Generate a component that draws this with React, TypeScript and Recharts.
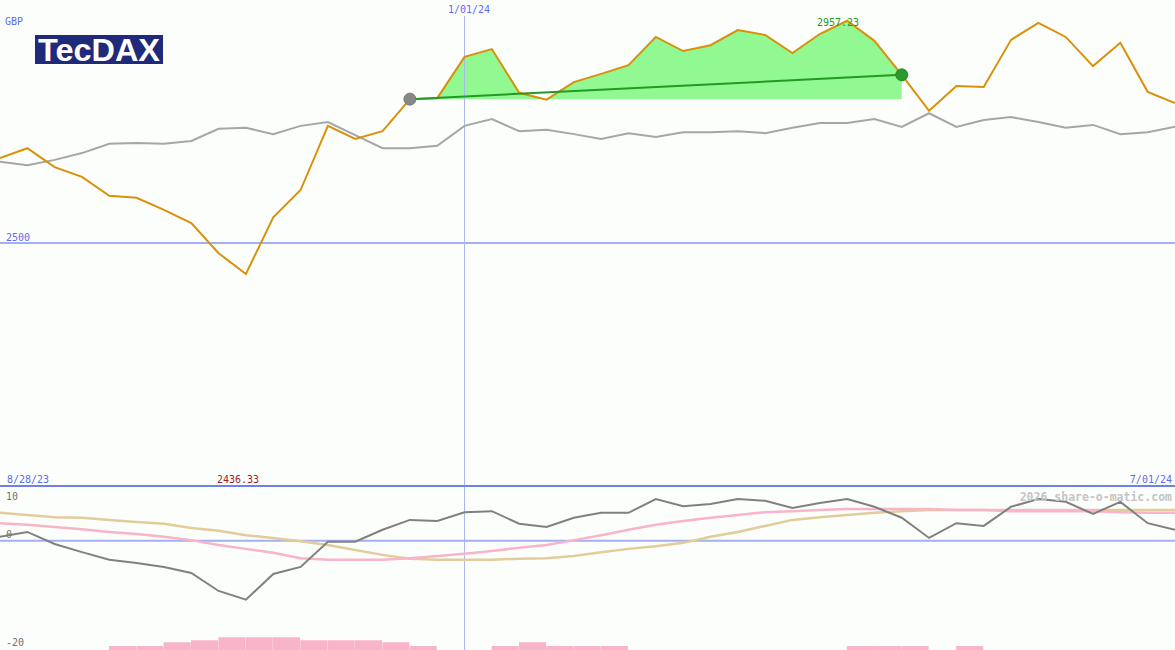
import React from 'react';
import { ComposedChart, Line, Area, Bar, XAxis, YAxis, ReferenceLine } from 'recharts';

// weekly closes, 8/28/23 .. 7/01/24 (44 points)
const tecdaxGbp = [
  2675, 2695, 2656, 2636, 2597, 2593, 2568, 2541, 2479, 2436.33,
  2553, 2609, 2741, 2714, 2730, 2796, 2798, 2883, 2899, 2809,
  2795, 2831, 2848, 2866, 2924, 2895, 2907, 2938, 2928, 2891,
  2930, 2957.23, 2916, 2846, 2772, 2823, 2821, 2918, 2953, 2924,
  2864, 2912, 2811, 2788,
];
const compareLine = [
  2667, 2660, 2671, 2685, 2704, 2706, 2704, 2710, 2735, 2737,
  2724, 2741, 2749, 2722, 2695, 2695, 2700, 2741, 2755, 2730,
  2733, 2724, 2714, 2726, 2718, 2728, 2728, 2730, 2726, 2737,
  2747, 2747, 2755, 2739, 2767, 2739, 2753, 2759, 2749, 2737,
  2743, 2724, 2728, 2739,
];
const momentum = [
  0.7, 1.6, -0.6, -2.1, -3.5, -4.1, -4.8, -5.9, -9.2, -10.8,
  -6.1, -4.8, -0.2, -0.2, 2.0, 3.8, 3.6, 5.2, 5.4, 3.1,
  2.5, 4.2, 5.1, 5.1, 7.6, 6.3, 6.7, 7.6, 7.3, 6.0,
  6.9, 7.6, 6.2, 4.2, 0.5, 3.2, 2.7, 6.2, 7.6, 7.1,
  4.9, 7.1, 3.2, 2.0,
];
const signalPink = [
  3.2, 2.9, 2.5, 2.1, 1.6, 1.2, 0.7, 0.1, -0.8, -1.5,
  -2.2, -3.2, -3.5, -3.5, -3.5, -3.2, -2.8, -2.4, -1.9, -1.3,
  -0.8, 0.1, 1.0, 2.0, 2.9, 3.6, 4.2, 4.7, 5.2, 5.4,
  5.6, 5.8, 5.8, 5.8, 5.8, 5.6, 5.6, 5.4, 5.4, 5.4,
  5.4, 5.2, 5.1, 5.1,
];
const signalTan = [
  5.1, 4.7, 4.3, 4.2, 3.8, 3.4, 3.1, 2.3, 1.8, 1.0,
  0.5, -0.1, -0.8, -1.7, -2.6, -3.3, -3.5, -3.5, -3.5, -3.3,
  -3.2, -2.8, -2.1, -1.5, -1.0, -0.4, 0.7, 1.6, 2.7, 3.8,
  4.3, 4.7, 5.1, 5.4, 5.6, 5.6, 5.6, 5.6, 5.6, 5.6,
  5.6, 5.6, 5.6, 5.6,
];
// one bar per week interval (43)
const histBars = [
  0, 0, 0, 0, 0.5, 0.5, 1.2, 1.55, 2.1, 2.1,
  2.1, 1.55, 1.55, 1.55, 1.2, 0.5, 0, 0, 0.5, 1.2,
  0.5, 0.5, 0.5, 0, 0, 0, 0, 0, 0, 0,
  0, 0.5, 0.5, 0.5, 0, 0.5, 0, 0, 0, 0,
  0, 0, 0,
];

const startLabel = '8/28/23';
const endLabel = '7/01/24';
const markLabel = '1/01/24';
const markIndex = 17;
const trendStart = 15;
const trendEnd = 33;
const minLabel = '2436.33';
const maxLabel = '2957.23';

const W = 1175;
const last = tecdaxGbp.length - 1;
const mono = '"DejaVu Sans Mono", monospace';
const blue = '#5a6cf0';

const topData = tecdaxGbp.map((v, i) => ({
  x: i,
  tec: v,
  cmp: compareLine[i],
  hl: i >= trendStart && i <= trendEnd ? v : null,
  trend: i === trendStart || i === trendEnd ? v : null,
}));

const oscData = momentum.map((m, i) => ({ x: i, mom: m, pink: signalPink[i], tan: signalTan[i] }));
const histData = histBars.map((h, i) => ({ x: i + 0.5, hist: h || null }));

const TrendDot = (props: any) => {
  const { cx, cy, index, value } = props;
  if (value == null || cx == null || cy == null) return <g key={`d${index}`} />;
  const start = index === trendStart;
  return (
    <circle
      key={`d${index}`}
      cx={cx}
      cy={cy}
      r={6}
      fill={start ? '#888888' : '#2a9a2a'}
      stroke={start ? '#7a7a7a' : '#1e8a1e'}
      strokeWidth={1}
    />
  );
};

export default function App() {
  return (
    <div style={{ position: 'absolute', left: 0, top: 0, width: W, height: 650, background: '#fcfefc', overflow: 'hidden' }}>
      <div style={{ position: 'absolute', left: 0, top: 0 }}>
        <ComposedChart width={W} height={486} data={topData} margin={{ top: 0, right: 0, bottom: 0, left: 0 }}>
          <XAxis type="number" dataKey="x" domain={[0, last]} hide />
          <YAxis type="number" domain={[2000, 3000]} hide />
          <ReferenceLine y={2500} stroke="#a2b0f2" strokeWidth={2} />
          <ReferenceLine
            segment={[{ x: markIndex, y: 2967 }, { x: markIndex, y: 2000 }]}
            stroke="#aab6f0"
            strokeWidth={1}
          />
          <Area
            type="linear"
            dataKey="hl"
            baseValue={tecdaxGbp[trendStart]}
            stroke="none"
            fill="#92f892"
            fillOpacity={1}
            isAnimationActive={false}
          />
          <Line type="linear" dataKey="cmp" stroke="#a6a6a6" strokeWidth={2} dot={false} activeDot={false} isAnimationActive={false} />
          <Line type="linear" dataKey="tec" stroke="#d9900a" strokeWidth={2} dot={false} activeDot={false} isAnimationActive={false} />
          <Line
            type="linear"
            dataKey="trend"
            connectNulls
            stroke="#239a23"
            strokeWidth={2}
            dot={TrendDot}
            activeDot={false}
            isAnimationActive={false}
          />
        </ComposedChart>
      </div>
      {/* histogram sits behind the oscillator lines, one bar per week interval */}
      <div style={{ position: 'absolute', left: 0, top: 484 }}>
        <ComposedChart width={W} height={166} data={histData} margin={{ top: 2, right: 0, bottom: 0, left: 0 }} barCategoryGap={0} barGap={0}>
          <XAxis type="number" dataKey="x" domain={[0, last]} hide />
          <YAxis type="number" domain={[0, 30]} hide />
          <Bar dataKey="hist" fill="#f8b4c8" stroke="#f8b4c8" strokeWidth={2.5} barSize={28} isAnimationActive={false} />
        </ComposedChart>
      </div>
      <div style={{ position: 'absolute', left: 0, top: 484 }}>
        <ComposedChart width={W} height={166} data={oscData} margin={{ top: 2, right: 0, bottom: 0, left: 0 }}>
          <XAxis type="number" dataKey="x" domain={[0, last]} hide />
          <YAxis type="number" domain={[-20, 10]} hide />
          <ReferenceLine x={markIndex} stroke="#aab6f0" strokeWidth={1} />
          <ReferenceLine y={0} stroke="#a2b0f2" strokeWidth={2} />
          <ReferenceLine y={10} stroke="#7080ea" strokeWidth={2} />
          <Line type="linear" dataKey="tan" stroke="#e2cc9a" strokeWidth={2.5} dot={false} activeDot={false} isAnimationActive={false} />
          <Line type="linear" dataKey="pink" stroke="#f8b4c8" strokeWidth={2.5} dot={false} activeDot={false} isAnimationActive={false} />
          <Line type="linear" dataKey="mom" stroke="#808080" strokeWidth={2} dot={false} activeDot={false} isAnimationActive={false} />
        </ComposedChart>
      </div>
      <svg width={W} height={650} style={{ position: 'absolute', left: 0, top: 0, pointerEvents: 'none' }}>
        <g fontFamily={mono} fontSize={10}>
          <text x={5} y={25} fill={blue}>GBP</text>
          <text x={448} y={13} fill={blue}>{markLabel}</text>
          <text x={838} y={26} fill="#229922" textAnchor="middle">{maxLabel}</text>
          <text x={6} y={241} fill={blue}>2500</text>
          <text x={7} y={483} fill={blue}>{startLabel}</text>
          <text x={217} y={483} fill="#a01c1c">{minLabel}</text>
          <text x={1172} y={483} fill={blue} textAnchor="end">{endLabel}</text>
          <text x={6} y={500} fill="#707070">10</text>
          <text x={6} y={538} fill="#707070">0</text>
          <text x={6} y={646} fill="#707070">-20</text>
          <text x={1172} y={501} fill="#c4c4c4" fontSize={11.5} fontWeight="bold" textAnchor="end">2026 share-o-matic.com</text>
        </g>
        <rect x={35} y={35} width={128} height={29} fill="#1f2a7a" />
        <text
          x={38}
          y={61}
          fill="#ffffff"
          fontFamily='"Liberation Sans", Arial, sans-serif'
          fontWeight="bold"
          fontSize={31}
          textLength={122}
          lengthAdjust="spacingAndGlyphs"
        >
          TecDAX
        </text>
      </svg>
    </div>
  );
}
